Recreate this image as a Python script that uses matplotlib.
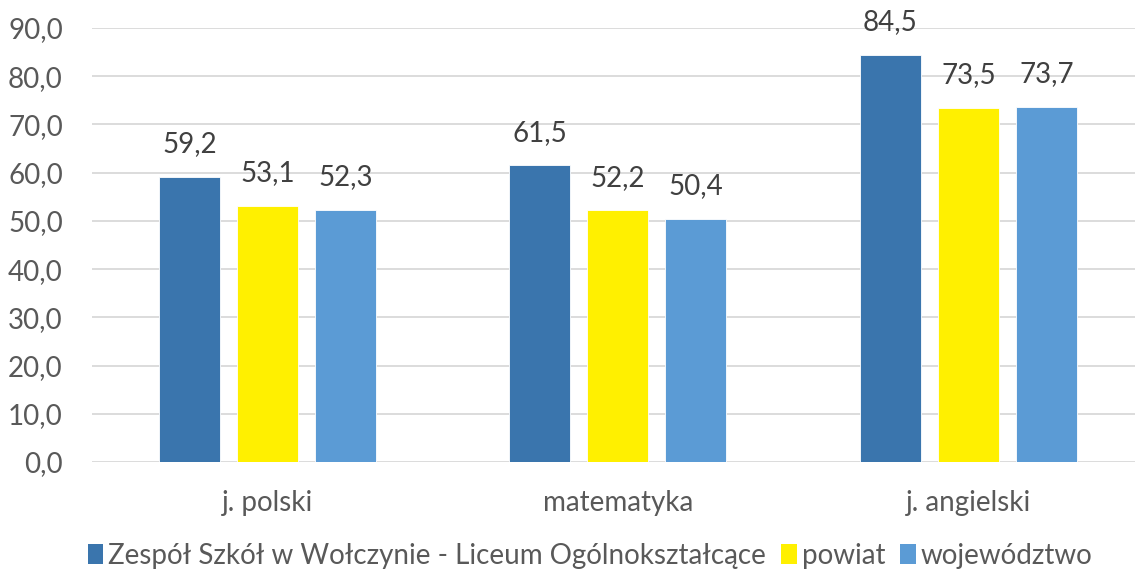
import matplotlib
matplotlib.use("Agg")
import matplotlib.pyplot as plt
from matplotlib.patches import Patch
from matplotlib.ticker import FuncFormatter

categories = ["j. polski", "matematyka", "j. angielski"]
series_names = ["Zespół Szkół w Wołczynie - Liceum Ogólnokształcące", "powiat", "województwo"]
szkola = [59.2, 61.5, 84.5]
powiat = [53.1, 52.2, 73.5]
wojewodztwo = [52.3, 50.4, 73.7]
y_ticks = [0, 10, 20, 30, 40, 50, 60, 70, 80, 90]

COLORS = ["#3A75AD", "#FFF000", "#5B9BD5"]
TXT = "#595959"
FS = 20

plt.rcParams['font.family'] = ['Lato', 'DejaVu Sans']

fig = plt.figure(figsize=(11.35, 5.71), dpi=100)
ax = fig.add_axes([92 / 1135, 109 / 571, 1 - 92 / 1135, 434 / 571])

width = 0.174
step = 0.2225
for i, (vals, col) in enumerate(zip([szkola, powiat, wojewodztwo], COLORS)):
    xs = [k + (i - 1) * step for k in range(len(categories))]
    bars = ax.bar(xs, vals, width=width, color=col, edgecolor="white", linewidth=0.6, zorder=3)
    for b, v in zip(bars, vals):
        ax.annotate(f"{v:.1f}".replace(".", ","), (b.get_x() + b.get_width() / 2, v),
                    xytext=(0, 14), textcoords="offset points", ha="center", va="bottom",
                    fontsize=FS, color="#404040")

ax.set_xlim(-0.5, 2.475)
ax.set_ylim(0, 90)
ax.set_yticks(y_ticks)
ax.yaxis.set_major_formatter(FuncFormatter(lambda v, p: f"{v:.1f}".replace(".", ",")))
ax.set_xticks(range(len(categories)))
ax.set_xticklabels(categories)
ax.tick_params(axis="y", length=0, pad=21, labelsize=FS, labelcolor=TXT)
ax.tick_params(axis="x", length=0, pad=20, labelsize=FS, labelcolor=TXT)
ax.grid(axis="y", color="#D9D9D9", linewidth=1.3, zorder=0)
for s in ax.spines.values():
    s.set_visible(False)

handles = [Patch(facecolor=c, edgecolor="none") for c in COLORS]
fig.legend(handles, series_names, loc="lower center", bbox_to_anchor=(0.52, -0.04), ncol=3,
           frameon=False, fontsize=FS, labelcolor=TXT, handlelength=0.55, handleheight=0.7,
           handletextpad=0.18, columnspacing=0.55)

fig.savefig("out.png", dpi=100)
